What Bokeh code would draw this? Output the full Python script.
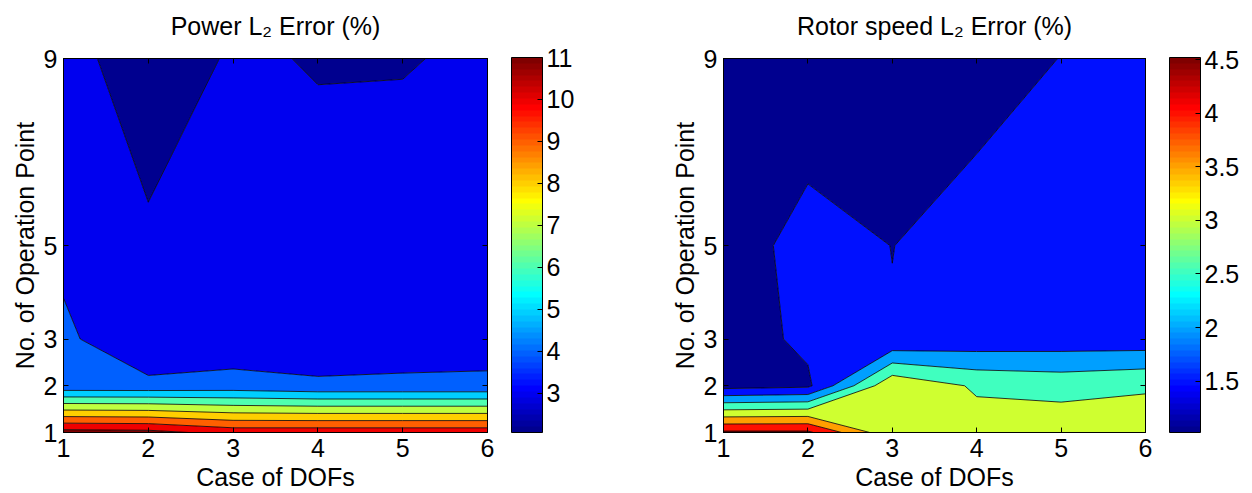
import numpy as np
from bokeh.plotting import figure
from bokeh.layouts import row
from bokeh.models import (Range1d, FixedTicker, LinearAxis, ColorBar,
                          LinearColorMapper, PrintfTickFormatter)
from bokeh.embed import file_html
from bokeh.resources import INLINE

# ---------------- data ----------------
dof_cases = [1, 2, 3, 4, 5, 6]          # x: Case of DOFs
op_points = [1, 2, 3, 5, 9]             # y: No. of Operation Point

# rows follow op_points, columns follow dof_cases
power_l2 = [
    [11.43, 11.34, 10.63, 10.65, 10.65, 10.65],
    [4.29, 4.277, 4.375, 4.16, 4.16, 4.16],
    [4.24, 3.02, 3.33, 3.36, 3.57, 3.66],
    [3.69, 3.28, 3.40, 3.49, 3.40, 3.40],
    [3.62, 2.07, 3.18, 2.92, 2.95, 3.135],
]
rotor_l2 = [
    [4.60, 4.60, 3.10, 3.23, 3.32, 3.21],
    [1.30, 1.40, 3.42, 2.93, 2.827, 2.956],
    [1.20, 1.622, 1.53, 1.66, 1.70, 1.69],
    [1.16, 1.736, 1.493, 1.726, 1.75, 1.75],
    [1.10, 1.02, 1.20, 1.265, 1.51, 1.60],
]

power_levels = [3, 4, 5, 6, 7, 8, 9, 10, 11]
rotor_levels = [1.5, 2.0, 2.5, 3.0, 3.5, 4.0, 4.5]
power_clim = (2.07, 11.0)
rotor_clim = (1.02, 4.52)

x_ticks = [1, 2, 3, 4, 5, 6]
y_ticks = [1, 2, 3, 5, 9]
power_cbar_ticks = [3, 4, 5, 6, 7, 8, 9, 10, 11]
rotor_cbar_ticks = [1.5, 2, 2.5, 3, 3.5, 4, 4.5]

power_title = "Power L\u2082 Error (%)"
rotor_title = "Rotor speed L\u2082 Error (%)"

FONT = "Liberation Sans"


def jet(m=64):
    """MATLAB jet colormap."""
    n = int(np.ceil(m / 4))
    u = np.concatenate([np.arange(1, n + 1) / n, np.ones(n - 1), np.arange(n, 0, -1) / n])
    g = int(np.ceil(n / 2)) - (1 if m % 4 == 1 else 0) + np.arange(1, len(u) + 1)
    J = np.zeros((m, 3))
    for chan, idxs in ((0, g + n), (1, g), (2, g - n)):
        for i, val in zip(idxs, u):
            if 1 <= i <= m:
                J[i - 1, chan] = val
    return ["#%02x%02x%02x" % tuple(int(round(c * 255)) for c in rgb) for rgb in J]


JET = jet(64)


def label_style(ax):
    ax.axis_label_text_font = FONT
    ax.axis_label_text_font_size = "25px"
    ax.axis_label_text_font_style = "normal"
    ax.axis_label_text_color = "black"


def tick_only_axis(ticks):
    return LinearAxis(ticker=FixedTicker(ticks=ticks), major_label_text_font_size="1px",
                      major_label_text_color=None, major_label_standoff=0,
                      major_tick_in=5, major_tick_out=0,
                      minor_tick_line_color=None, axis_line_color="black",
                      major_tick_line_color="black")


def make_panel(title, z, levels, clim, cb_ticks, width, left_border, right_border):
    z = np.array(z, dtype=float)
    lo, hi = clim
    bounds = [min(z.min(), lo) - 0.5] + list(levels) + [z.max() + 0.5]
    colors = []
    for k in range(len(bounds) - 1):
        v = lo if k == 0 else bounds[k]
        idx = int((v - lo) / (hi - lo) * 64)
        colors.append(JET[max(0, min(63, idx))])

    p = figure(width=width, height=493,
               x_range=Range1d(1, 6), y_range=Range1d(1, 9),
               output_backend="svg", toolbar_location=None,
               min_border_left=left_border, min_border_right=right_border,
               min_border_top=58, min_border_bottom=60)
    p.contour(x=dof_cases, y=op_points, z=z, levels=bounds,
              fill_color=colors, line_color="black", line_width=0.8)

    p.grid.visible = False
    p.outline_line_color = "black"
    p.outline_line_width = 1
    p.background_fill_color = "white"
    p.border_fill_color = "white"

    bottom = p.below[0]
    left = p.left[0]
    bottom.ticker = FixedTicker(ticks=x_ticks)
    left.ticker = FixedTicker(ticks=y_ticks)
    bottom.axis_label = "Case of DOFs"
    left.axis_label = "No. of Operation Point"
    for ax in (bottom, left):
        label_style(ax)
        ax.major_tick_in = 5
        ax.major_tick_out = 0
        ax.minor_tick_line_color = None
        ax.axis_line_color = "black"
        ax.major_tick_line_color = "black"
        ax.major_label_text_font = FONT
        ax.major_label_text_font_size = "25px"
        ax.major_label_text_color = "black"
    bottom.major_label_standoff = 6
    bottom.axis_label_standoff = 3
    left.major_label_standoff = 6
    left.axis_label_standoff = 2

    # top edge: inward ticks, with the panel title as its label
    top = tick_only_axis(x_ticks)
    top.axis_label = title
    top.axis_label_standoff = 19
    label_style(top)
    p.add_layout(top, "above")
    p.add_layout(tick_only_axis(y_ticks), "right")

    mapper = LinearColorMapper(palette=JET, low=lo, high=hi)
    cb = ColorBar(color_mapper=mapper, ticker=FixedTicker(ticks=cb_ticks),
                  formatter=PrintfTickFormatter(format="%g"),
                  width=31, height=375, padding=0, margin=0, location=(24, 0),
                  major_tick_in=5, major_tick_out=0, major_tick_line_color="black",
                  minor_tick_line_color=None,
                  major_label_text_font=FONT, major_label_text_font_size="25px",
                  major_label_text_color="black", label_standoff=4,
                  bar_line_color="black", border_line_color=None)
    p.add_layout(cb, "right")
    return p


p1 = make_panel(power_title, power_l2, power_levels, power_clim,
                power_cbar_ticks, 587, 63, 100)
p2 = make_panel(rotor_title, rotor_l2, rotor_levels, rotor_clim,
                rotor_cbar_ticks, 655, 136, 95)

layout = row(p1, p2)
open("out.html", "w").write(file_html(layout, INLINE))
